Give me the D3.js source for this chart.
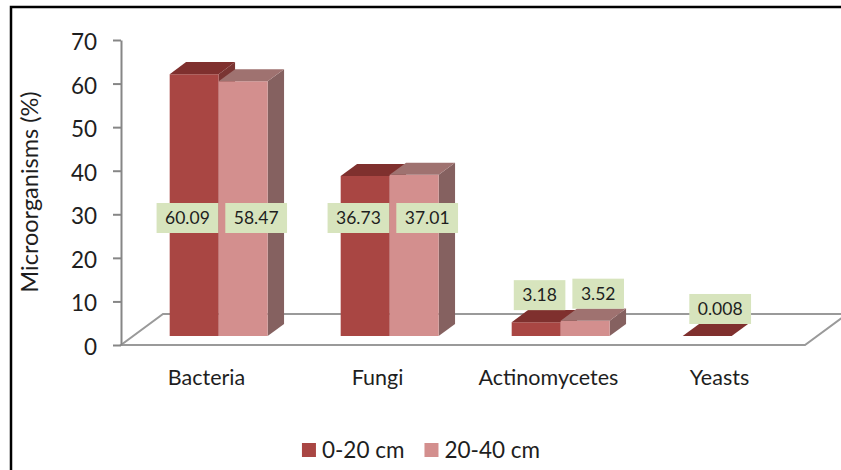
<!DOCTYPE html>
<html>
<head>
<meta charset="utf-8">
<script src="https://cdn.jsdelivr.net/npm/d3@7"></script>
<style>
  html, body { margin: 0; padding: 0; background: #fff; }
  svg { display: block; }
  text { font-family: Lato, "Open Sans", sans-serif; fill: #1e1e1e; }
</style>
</head>
<body>
<svg id="chart" width="841" height="470"></svg>
<script>
// ---- data ----
const categories = ["Bacteria", "Fungi", "Actinomycetes", "Yeasts"];
const seriesNames = ["0-20 cm", "20-40 cm"];
const values0to20 = [60.09, 36.73, 3.18, 0.008];
const values20to40 = [58.47, 37.01, 3.52, null];
const yTickValues = [0, 10, 20, 30, 40, 50, 60, 70];
const yAxisTitle = "Microorganisms (%)";

// ---- styles ----
const colors = {
  "0-20 cm":  { front: "#A94643", top: "#7F302E", side: "#7A3533" },
  "20-40 cm": { front: "#D38F8E", top: "#9F7270", side: "#856160" }
};
const depth = { dx: 42, dy: -31 };     // floor depth vector
const z0 = 0.29, z1 = 0.68;            // bar depth within floor

const svg = d3.select("#chart");

// frame border
svg.append("rect").attr("x", 11).attr("y", 7).attr("width", 900).attr("height", 600)
  .attr("fill", "#fff").attr("stroke", "#000").attr("stroke-width", 2.5);

const y = d3.scaleLinear().domain([0, 70]).range([345, 40]);
const x = d3.scaleBand().domain(categories).range([121, 805])
  .paddingInner(0.427).paddingOuter(0.2135);
const xs = d3.scaleBand().domain(seriesNames).range([0, x.bandwidth()]);

const P = (px, v, z) => [px + z * depth.dx, y(v) + z * depth.dy];

// floor
const x0 = 121, x1 = 805;
const floor = [[x0, y(0)], [x1, y(0)], [x1 + depth.dx, y(0) + depth.dy], [x0 + depth.dx, y(0) + depth.dy]];
svg.append("path").attr("d", d3.line()(floor) + "Z")
  .attr("fill", "#fff").attr("stroke", "#9a9a9a").attr("stroke-width", 2);

// bars
const data = [];
categories.forEach((c, i) => {
  [values0to20[i], values20to40[i]].forEach((v, j) => {
    if (v === null || v === undefined) return;
    data.push({ cat: c, s: seriesNames[j], v });
  });
});

const barG = svg.append("g");
data.forEach(d => {
  const xl = x(d.cat) + xs(d.s), xr = xl + xs.bandwidth();
  const c = colors[d.s];
  const g = barG.append("g");
  const front = [P(xl, 0, z0), P(xr, 0, z0), P(xr, d.v, z0), P(xl, d.v, z0)];
  const top = [P(xl, d.v, z0), P(xr, d.v, z0), P(xr, d.v, z1), P(xl, d.v, z1)];
  const side = [P(xr, 0, z0), P(xr, 0, z1), P(xr, d.v, z1), P(xr, d.v, z0)];
  g.append("path").attr("d", d3.line()(side) + "Z").attr("fill", c.side);
  g.append("path").attr("d", d3.line()(front) + "Z").attr("fill", c.front);
  g.append("path").attr("d", d3.line()(top) + "Z").attr("fill", c.top);
});

// redraw floor front edge on top
svg.append("line").attr("x1", x0).attr("y1", y(0)).attr("x2", x1).attr("y2", y(0))
  .attr("stroke", "#9a9a9a").attr("stroke-width", 2);

// y axis
const yAxis = d3.axisLeft(y).tickValues(yTickValues).tickSize(8).tickPadding(16).tickSizeOuter(0);
const ag = svg.append("g").attr("transform", "translate(121,0)").call(yAxis);
ag.select(".domain").attr("stroke", "#868686").attr("stroke-width", 2);
ag.selectAll(".tick line").attr("stroke", "#868686").attr("stroke-width", 2);
ag.selectAll(".tick text").attr("font-size", 22.5).attr("font-family", "Lato, sans-serif")
  .attr("fill", "#1e1e1e").attr("dy", "0.42em");

// axis title
svg.append("text").attr("transform", "translate(38,192) rotate(-90)")
  .attr("text-anchor", "middle").attr("font-size", 23.5).text(yAxisTitle);

// category labels
svg.append("g").selectAll("text").data(categories).join("text")
  .attr("x", d => x(d) + x.bandwidth() / 2).attr("y", 385)
  .attr("text-anchor", "middle").attr("font-size", 21.5).text(d => d);

// data labels
const labG = svg.append("g");
const rowY = 218;
categories.forEach((c, i) => {
  const vals = [values0to20[i], values20to40[i]];
  const items = [];
  vals.forEach((v, j) => {
    if (v === null || v === undefined) return;
    const s = seriesNames[j];
    const xl = x(c) + xs(s);
    const topY = y(v) + z0 * depth.dy;
    const cx = xl + xs.bandwidth() / 2 + z0 * depth.dx + 13;
    const cy = topY < rowY - 40 ? rowY : topY - 27;
    const g = labG.append("g");
    const t = g.append("text").attr("font-size", 17.5).attr("text-anchor", "middle")
      .attr("dy", "0.36em").text(String(v));
    const w = t.node().getComputedTextLength() + 17;
    items.push({ g, t, w, cx, cy });
  });
  // avoid overlap: shift first label left
  if (items.length === 2) {
    const a = items[0], b = items[1];
    const bLeft = b.cx - b.w / 2;
    a.cx = Math.min(a.cx, bLeft - 7 - a.w / 2);
  }
  items.forEach(it => {
    it.g.insert("rect", "text").attr("x", it.cx - it.w / 2).attr("y", it.cy - 15)
      .attr("width", it.w).attr("height", 30).attr("fill", "#D7E4BD");
    it.t.attr("x", it.cx).attr("y", it.cy);
  });
});

// legend
const lg = svg.append("g");
let lx = 0;
seriesNames.forEach((s, i) => {
  lg.append("rect").attr("x", lx).attr("y", -7).attr("width", 14).attr("height", 14)
    .attr("fill", colors[s].front);
  const t = lg.append("text").attr("x", lx + 20).attr("y", 0).attr("dy", "0.36em")
    .attr("font-size", 22.5).text(s);
  lx += 20 + t.node().getComputedTextLength() + 20;
});
const lw = lx - 20;
lg.attr("transform", `translate(${421 - lw / 2},450)`);
</script>
</body>
</html>
